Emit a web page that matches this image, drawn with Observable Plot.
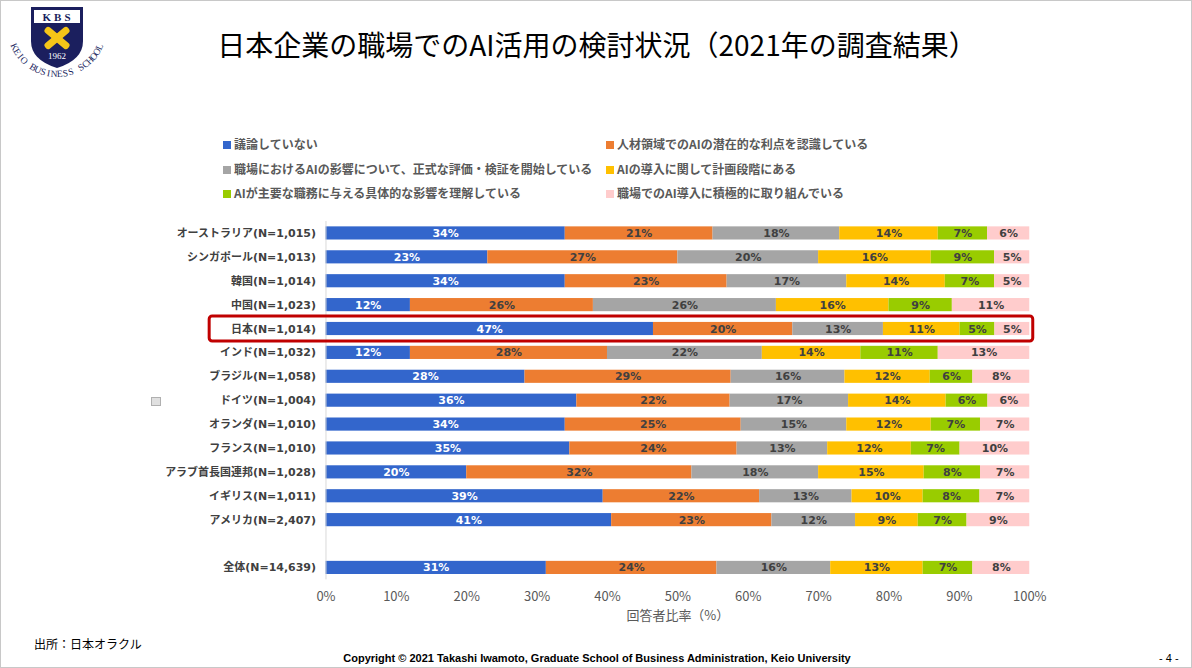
<!DOCTYPE html>
<html lang="ja">
<head>
<meta charset="utf-8">
<script src="https://cdn.jsdelivr.net/npm/d3@7"></script>
<script src="https://cdn.jsdelivr.net/npm/@observablehq/plot@0.6"></script>
<style>
  html, body { margin: 0; padding: 0; background: #fff; }
  #page { position: relative; width: 1192px; height: 668px; box-sizing: border-box; border: 1px solid #c8c8c8; overflow: hidden; background: #fff; font-family: "Noto Sans CJK JP", sans-serif; }
  #title { position: absolute; left: 0; width: 1192px; top: 23px; text-align: center; font-size: 28px; line-height: 40px; color: #000; font-weight: 400; }
  #legend .item { position: absolute; font-size: 12px; font-weight: 700; color: #595959; line-height: 16px; white-space: nowrap; }
  #legend .sw { display: inline-block; width: 8px; height: 8px; margin-right: 3px; vertical-align: 0px; }
  #chart { position: absolute; left: 0; top: 212px; }
  #source { position: absolute; left: 33px; top: 634px; font-size: 12px; color: #000; }
  #copy { position: absolute; left: 0; width: 1192px; top: 651px; text-align: center; font-family: "Liberation Sans", Arial, sans-serif; font-weight: 700; font-size: 11px; color: #000; }
  #pageno { position: absolute; left: 1158px; top: 651px; font-family: "Liberation Sans", Arial, sans-serif; font-size: 11px; color: #000; }
  #logo { position: absolute; left: 0; top: 0; }
  #icon { position: absolute; left: 150px; top: 396px; width: 8px; height: 7px; border: 1.5px solid #b0b0b0; background: #e0e0e0; }
</style>
</head>
<body>
<div id="page">
  <svg id="logo" width="115" height="90" viewBox="0 0 115 90">
    <path d="M 30 6 L 82 6 L 82 40 Q 82 59 56 67 Q 30 59 30 40 Z" fill="#1B1F5E"/>
    <rect x="33" y="9" width="46" height="13" fill="#fff"/>
    <text x="57" y="20" text-anchor="middle" font-family="Liberation Serif, serif" font-weight="700" font-size="11" fill="#1B1F5E" letter-spacing="3">KBS</text>
    <g transform="translate(56,37)">
      <rect x="-15" y="-3.5" width="30" height="7" rx="3" fill="#F5C518" transform="rotate(40)"/>
      <rect x="-15" y="-3.5" width="30" height="7" rx="3" fill="#F5C518" transform="rotate(-40)"/>
    </g>
    <text x="56" y="58" text-anchor="middle" font-family="Liberation Serif, serif" font-size="9" fill="#fff">1962</text>
    <g id="arcText"></g>
  </svg>
  <div id="title">日本企業の職場でのAI活用の検討状況（2021年の調査結果）</div>
  <div id="legend"></div>
  <div id="icon"></div>
  <div id="chart"></div>
  <div id="source">出所：日本オラクル</div>
  <div id="copy">Copyright © 2021 Takashi Iwamoto, Graduate School of Business Administration, Keio University</div>
  <div id="pageno">- 4 -</div>
</div>
<script>
// ---- data ----
const countries = [
  "オーストラリア(N=1,015)", "シンガポール(N=1,013)", "韓国(N=1,014)", "中国(N=1,023)",
  "日本(N=1,014)", "インド(N=1,032)", "ブラジル(N=1,058)", "ドイツ(N=1,004)",
  "オランダ(N=1,010)", "フランス(N=1,010)", "アラブ首長国連邦(N=1,028)", "イギリス(N=1,011)",
  "アメリカ(N=2,407)", "全体(N=14,639)"
];
const categories = [
  "議論していない",
  "人材領域でのAIの潜在的な利点を認識している",
  "職場におけるAIの影響について、正式な評価・検証を開始している",
  "AIの導入に関して計画段階にある",
  "AIが主要な職務に与える具体的な影響を理解している",
  "職場でのAI導入に積極的に取り組んでいる"
];
const colors = ["#3366CC", "#ED7D31", "#A5A5A5", "#FFC000", "#99CC00", "#FFCCCC"];
const notDiscussed       = [34, 23, 34, 12, 47, 12, 28, 36, 34, 35, 20, 39, 41, 31];
const recognizeBenefits  = [21, 27, 23, 26, 20, 28, 29, 22, 25, 24, 32, 22, 23, 24];
const formalEvaluation   = [18, 20, 17, 26, 13, 22, 16, 17, 15, 13, 18, 13, 12, 16];
const planningStage      = [14, 16, 14, 16, 11, 14, 12, 14, 12, 12, 15, 10,  9, 13];
const understandImpact   = [ 7,  9,  7,  9,  5, 11,  6,  6,  7,  7,  8,  8,  7,  7];
const activelyAdopting   = [ 6,  5,  5, 11,  5, 13,  8,  6,  7, 10,  7,  7,  9,  8];
const xTicks = [0, 0.1, 0.2, 0.3, 0.4, 0.5, 0.6, 0.7, 0.8, 0.9, 1];
const highlighted = "日本(N=1,014)";
const gapRow = " ";

// ---- logo arc lettering ----
(function () {
  const txt = "KEIO BUSINESS SCHOOL";
  const cx = 56, cy = 26, r = 50;
  const g = d3.select("#arcText");
  const a0 = 155, a1 = 25;
  [...txt].forEach((ch, i) => {
    const a = a0 + (a1 - a0) * (i / (txt.length - 1));
    const rad = a * Math.PI / 180;
    const x = cx + r * Math.cos(rad), y = cy + r * Math.sin(rad);
    g.append("text")
      .attr("transform", `translate(${x},${y}) rotate(${a - 90})`)
      .attr("text-anchor", "middle")
      .attr("font-family", "Liberation Serif, serif")
      .attr("font-size", 9.5)
      .attr("fill", "#1B1F5E")
      .text(ch);
  });
})();

// ---- build table ----
const series = [notDiscussed, recognizeBenefits, formalEvaluation, planningStage, understandImpact, activelyAdopting];
const table = [];
countries.forEach((c, i) => {
  series.forEach((s, k) => table.push({country: c, category: categories[k], value: s[i]}));
});
const yDomain = [...countries.slice(0, 13), gapRow, countries[13]];

// ---- legend ----
const legend = document.getElementById("legend");
const legendPos = [[222, 135], [605, 135], [222, 160], [605, 160], [222, 184], [605, 184]];
categories.forEach((c, k) => {
  const el = document.createElement("div");
  el.className = "item";
  el.style.left = legendPos[k][0] + "px";
  el.style.top = legendPos[k][1] + "px";
  el.innerHTML = `<span class="sw" style="background:${colors[k]}"></span>${c}`;
  legend.appendChild(el);
});

// ---- chart ----
const latinFont = "'DejaVu Sans', 'Noto Sans CJK JP', sans-serif";
const chart = Plot.plot({
  width: 1192,
  height: 410,
  marginLeft: 325,
  marginRight: 162,
  marginTop: 8,
  marginBottom: 43,
  style: {background: "transparent", overflow: "visible", fontFamily: "'Noto Sans CJK JP', sans-serif"},
  x: {domain: [0, 1]},
  y: {domain: yDomain, paddingInner: 0.45, paddingOuter: 0.225, round: false},
  color: {domain: categories, range: colors},
  marks: [
    Plot.barX(table, Plot.stackX({offset: "normalize", x: "value", y: "country", fill: "category"})),
    Plot.text(table, Plot.stackX({
      offset: "normalize", x: "value", y: "country", z: "category",
      text: d => d.value + "%",
      fill: d => d.category === categories[0] ? "#ffffff" : "#404040",
      fontFamily: latinFont, fontWeight: "bold", fontSize: 11
    })),
    Plot.ruleX([0], {stroke: "#D9D9D9", strokeWidth: 1}),
    Plot.axisY({tickSize: 0, tickPadding: 10, label: null, fontFamily: latinFont, fontWeight: "bold", fontSize: 11, fill: "#404040",
      tickFormat: d => d}),
    Plot.axisX({ticks: xTicks, tickFormat: d3.format(".0%"), tickSize: 0, tickPadding: 12, fontSize: 13, fill: "#595959",
      label: "回答者比率（%）", labelAnchor: "center", labelArrow: "none", labelOffset: 40})
  ]
});
document.getElementById("chart").appendChild(chart);

// ---- highlight box around Japan row ----
const ys = chart.scale("y"), xs = chart.scale("x");
const yc = ys.apply(highlighted) + ys.bandwidth / 2;
const x0 = xs.apply(0), x1 = xs.apply(1);
d3.select(chart).append("rect")
  .attr("x", x0 - 116.5).attr("y", yc - 12.5)
  .attr("width", x1 - x0 + 120).attr("height", 25)
  .attr("rx", 3)
  .attr("fill", "none").attr("stroke", "#C00000").attr("stroke-width", 3);
</script>
</body>
</html>
